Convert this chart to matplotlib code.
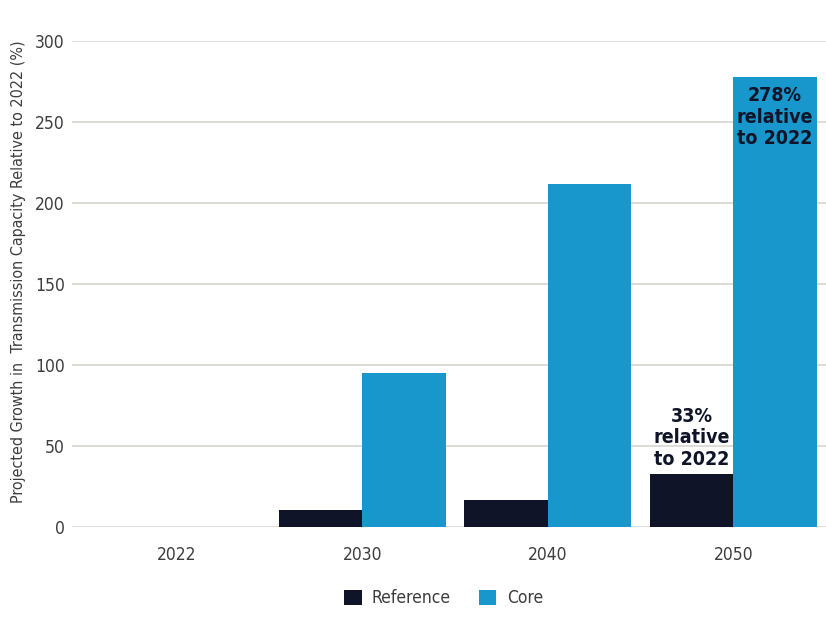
import matplotlib
matplotlib.use("Agg")
import matplotlib.pyplot as plt
from matplotlib import font_manager as fm
import numpy as np

years = ["2022", "2030", "2040", "2050"]
reference = [0, 10.5, 16.5, 33]
core = [0, 95, 211.5, 278]
ylabel = "Projected Growth in  Transmission Capacity Relative to 2022 (%)"

# look for a condensed / narrow face
cands = [f for f in fm.fontManager.ttflist
         if ('condensed' in f.fname.lower() or 'narrow' in f.fname.lower()
             or 'narrow' in f.name.lower() or 'condensed' in f.name.lower())
         and 'italic' not in f.fname.lower() and 'oblique' not in f.fname.lower()]
reg = [f for f in cands if f.weight in (400, 'normal', 'regular') and 'bold' not in f.fname.lower()]
bld = [f for f in cands if 'bold' in f.fname.lower()]
condensed = bool(reg)
if condensed:
    fp_reg = fm.FontProperties(fname=reg[0].fname)
    fp_bold = fm.FontProperties(fname=(bld[0].fname if bld else reg[0].fname))
    if not bld:
        fp_bold.set_weight('bold')
else:
    fp_reg = fm.FontProperties(family='DejaVu Sans')
    fp_bold = fm.FontProperties(family='DejaVu Sans', weight='bold')

s_tick = 12.5 if condensed else 11
s_ylab = 11.5 if condensed else 8.8
s_ann = 14 if condensed else 12.5

ref_col = "#0f1428"
core_col = "#1797cc"
txt_col = "#3d3d3d"

fig = plt.figure(figsize=(8.26, 6.2), dpi=100)
ax = fig.add_axes([0.087, 0.15, 0.913, 0.784])
x = np.arange(len(years))
w = 0.45
ax.bar(x - w/2, reference, w, color=ref_col, label="Reference", zorder=3)
ax.bar(x + w/2, core, w, color=core_col, label="Core", zorder=3)

ax.set_xlim(-0.565, 3.5)
ax.set_ylim(0, 300)
ax.set_yticks(range(0, 301, 50))
ax.grid(axis='y', color='#d8d5cf', lw=1.2, zorder=0)
for s in ax.spines.values():
    s.set_visible(False)
ax.tick_params(axis='both', length=0, labelcolor=txt_col)
ax.tick_params(axis='y', pad=5)
ax.tick_params(axis='x', pad=14)
ax.set_xticks(x)
ax.set_xticklabels(years)
for lab in ax.get_xticklabels() + ax.get_yticklabels():
    lab.set_fontproperties(fp_reg)
    lab.set_fontsize(s_tick)
ax.set_ylabel(ylabel, fontproperties=fp_reg, fontsize=s_ylab, color=txt_col)
ax.yaxis.set_label_coords(-0.061, 0.525)

ax.text(3 - w/2, reference[3] + 3, f"{reference[3]:.0f}%\nrelative\nto 2022", ha='center', va='bottom',
        fontproperties=fp_bold, fontsize=s_ann, color=ref_col, linespacing=1.15, zorder=4)
ax.text(3 + w/2, core[3] - 6, f"{core[3]:.0f}%\nrelative\nto 2022", ha='center', va='top',
        fontproperties=fp_bold, fontsize=s_ann, color=ref_col, linespacing=1.15, zorder=4)

lp = fp_reg.copy()
lp.set_size(s_tick)
leg = fig.legend(loc='center', bbox_to_anchor=(0.537, 0.035), ncol=2, frameon=False,
                 prop=lp, handlelength=1.0, handleheight=1.0, columnspacing=1.6, handletextpad=0.6)
for t in leg.get_texts():
    t.set_color(txt_col)

fig.savefig("out.png", dpi=100, facecolor='white')
